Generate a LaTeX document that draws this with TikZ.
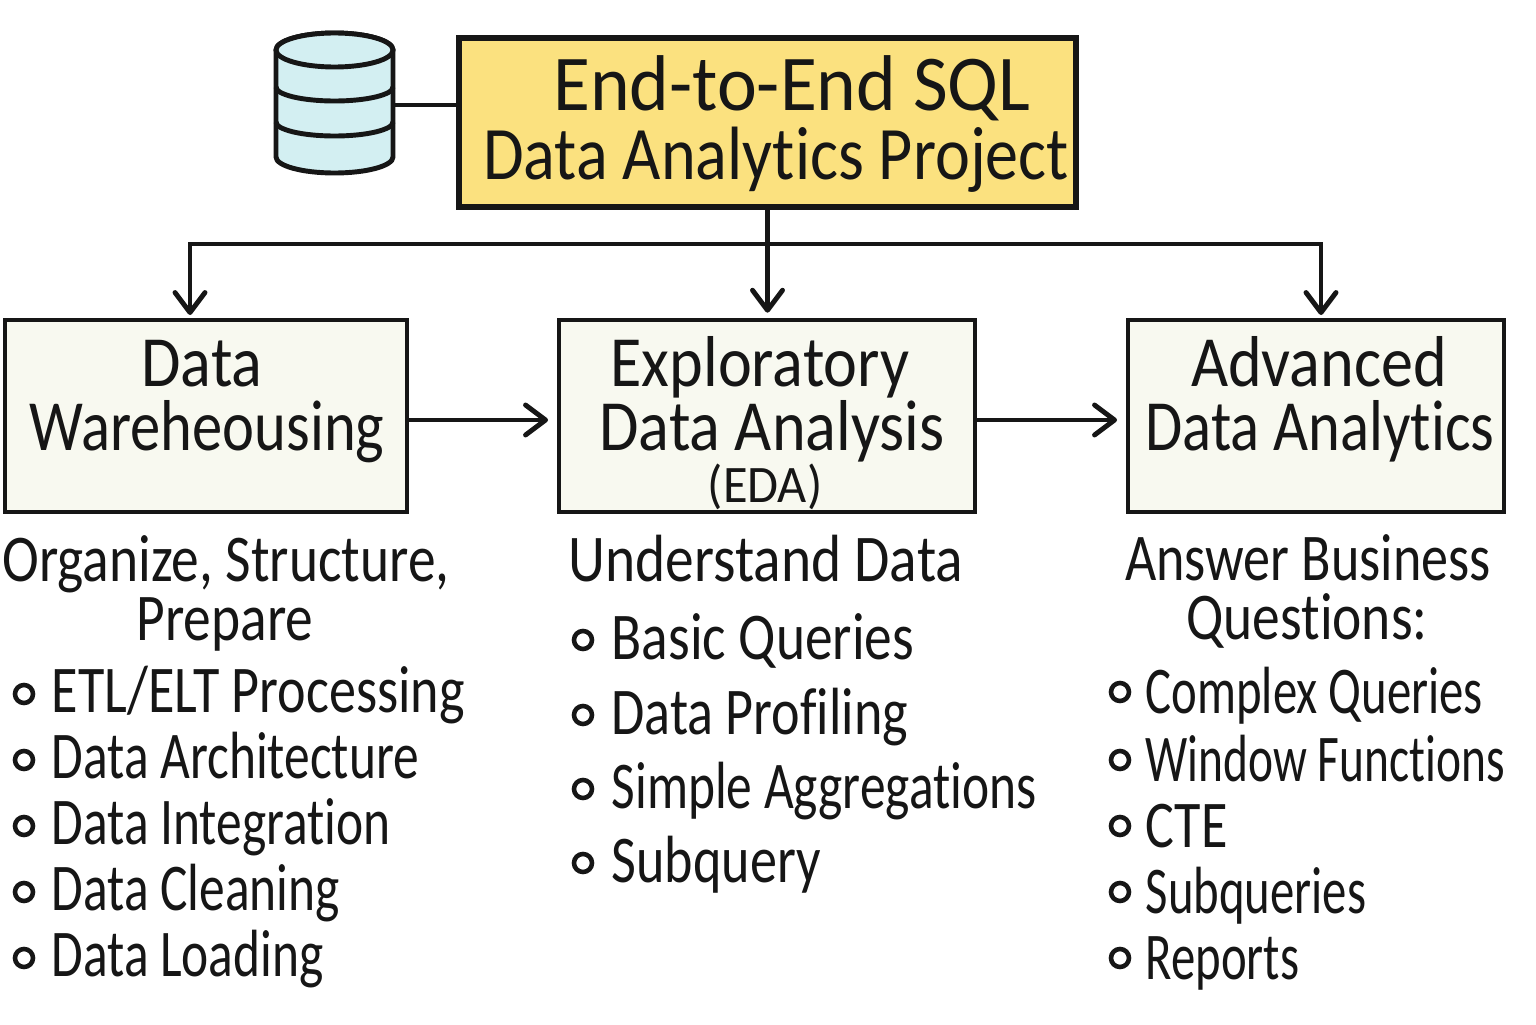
\documentclass[tikz,border=0pt]{standalone}
\usepackage{fontspec}
\setmainfont{Carlito}[FakeStretch=0.8,Ligatures=NoCommon]
\newfontfamily\endfont{Carlito}[FakeStretch=0.955,Ligatures=NoCommon]
\newfontfamily\projectfont{Carlito}[FakeStretch=0.875,Ligatures=NoCommon]
\newfontfamily\stagefont{Carlito}[FakeStretch=0.84,Ligatures=NoCommon]
\newfontfamily\stagewide{Carlito}[FakeStretch=0.89,Ligatures=NoCommon]
\newfontfamily\headfont{Carlito}[FakeStretch=0.83,Ligatures=NoCommon]
\newfontfamily\headwide{Carlito}[FakeStretch=0.86,Ligatures=NoCommon]
\newfontfamily\leftfont{Carlito}[FakeStretch=0.77,Ligatures=NoCommon]
\newfontfamily\midfont{Carlito}[FakeStretch=0.81,Ligatures=NoCommon]
\newfontfamily\rightfont{Carlito}[FakeStretch=0.73,Ligatures=NoCommon]
\newfontfamily\tightfont{Carlito}[FakeStretch=0.71,Ligatures=NoCommon]
\usetikzlibrary{arrows.meta,positioning}
\definecolor{titlefill}{HTML}{FBE17F}
\definecolor{boxfill}{HTML}{F8F9F0}
\definecolor{dbfill}{HTML}{D3EFF2}
\definecolor{inkline}{HTML}{161616}
\tikzset{
  stagebox/.style={draw=inkline,line width=1.3pt,fill=boxfill,inner sep=0pt},
  listtext/.style={anchor=base west,inner sep=0pt,text=inkline},
  headtext/.style={anchor=base,inner sep=0pt,font=\headfont\fontsize{19}{19}\selectfont,text=inkline},
  boxtext/.style={anchor=base,inner sep=0pt,font=\stagewide\fontsize{20.5}{20.5}\selectfont,text=inkline},
  titletext/.style={anchor=base,inner sep=0pt,text=inkline},
  dot/.style={circle,draw=inkline,line width=1.3pt,minimum size=0.18cm,inner sep=0pt},
  link/.style={draw=inkline,line width=1.4pt,-{Straight Barb[length=2mm,width=3mm,line width=1.4pt,round]},shorten >=1.1mm},
  drop/.style={link,shorten >=0.5mm},
  dbline/.style={draw=inkline,line width=1.4pt},
}
\begin{document}
\begin{tikzpicture}
            \useasboundingbox (0,0) rectangle (15.36,10.24);
            \fill[white] (0,0) rectangle (15.36,10.24);

            % title
            \node [draw=inkline,line width=1.5pt,fill=titlefill,minimum width=6.17cm,minimum height=1.69cm,inner sep=0pt] (title) at (7.675,9.015) {};
            \node [titletext,font=\endfont\fontsize{22.5}{22.5}\selectfont] (titleone) at (7.92,9.13) {End-to-End SQL};
            \node [titletext,font=\projectfont\fontsize{21.5}{21.5}\selectfont] (titletwo) at (7.76,8.44) {Data Analytics Project};

            % database
            \draw[dbline,fill=dbfill] (2.76,9.74) -- (2.76,8.67) arc[start angle=180,end angle=360,x radius=0.585,y radius=0.16] -- (3.93,9.74) arc[start angle=0,end angle=180,x radius=0.585,y radius=0.17];
            \draw[dbline,fill=dbfill] (3.345,9.74) ellipse[x radius=0.585,y radius=0.17];
            \draw[dbline] (2.76,9.37) arc[start angle=180,end angle=360,x radius=0.585,y radius=0.14];
            \draw[dbline] (2.76,9.02) arc[start angle=180,end angle=360,x radius=0.585,y radius=0.14];
            \coordinate (dbside) at (3.93,9.19);
            \draw[draw=inkline,line width=1.4pt] (dbside) -- (dbside -| title.west);

            % stages
            \node [stagebox,minimum width=4.02cm,minimum height=1.92cm] (dwh) at (2.06,6.08) {};
            \node [stagebox,minimum width=4.16cm,minimum height=1.92cm] (eda) at (7.67,6.08) {};
            \node [stagebox,minimum width=3.76cm,minimum height=1.92cm] (ada) at (13.16,6.08) {};

            \node [boxtext] (dwhone) at (2.02,6.38) {Data};
            \node [boxtext,font=\stagefont\fontsize{20.5}{20.5}\selectfont] (dwhtwo) at (2.07,5.74) {Wareheousing};
            \node [boxtext] (edaone) at (7.60,6.38) {Exploratory};
            \node [boxtext] (edatwo) at (7.72,5.74) {Data Analysis};
            \node [boxtext,font=\endfont\fontsize{15}{15}\selectfont] (edathree) at (7.65,5.22) {(EDA)};
            \node [boxtext] (adaone) at (13.19,6.38) {Advanced};
            \node [boxtext,font=\stagefont\fontsize{20.5}{20.5}\selectfont] (adatwo) at (13.20,5.74) {Data Analytics};

            % connectors
            \coordinate (split) at (7.675,7.80);
            \coordinate (dwhtop) at (1.90,7.04);
            \coordinate (adatop) at (13.21,7.04);
            \draw[draw=inkline,line width=1.4pt] (title.south) -- (split);
            \draw[drop] (split) -| (dwhtop);
            \draw[drop] (split) -- (split |- eda.north);
            \draw[drop] (split) -| (adatop);
            \coordinate (dwhright) at (4.07,6.04);
            \coordinate (edaleft) at (5.59,6.04);
            \coordinate (edaright) at (9.75,6.04);
            \coordinate (adaleft) at (11.28,6.04);
            \draw[link] (dwhright) -- (edaleft);
            \draw[link] (edaright) -- (adaleft);

            % headings
            \node [headtext] (dwhhead) at (2.26,4.43) {Organize, Structure,};
            \node [headtext] (dwhsub) at (2.25,3.84) {Prepare};
            \node [headtext,anchor=base west,font=\headwide\fontsize{19}{19}\selectfont] (edahead) at (5.68,4.43) {Understand Data};
            \node [headtext,font=\midfont\fontsize{19}{19}\selectfont] (adahead) at (13.08,4.44) {Answer Business};
            \node [headtext] (adasub) at (13.07,3.85) {Questions:};

            % lists
            \foreach \name/\ypos/\itemfont [count=\i] in {{ETL/ELT Processing}/3.12/\midfont,Data Architecture/2.46/\leftfont,Data Integration/1.80/\leftfont,Data Cleaning/1.14/\leftfont,Data Loading/0.48/\leftfont}
              {\node [dot] (dotl\i) at (0.24,\ypos+0.18) {};
               \node [listtext,font=\itemfont\fontsize{19}{19}\selectfont] (iteml\i) at (0.51,\ypos) {\name};}
            \foreach \name/\ypos/\itemfont [count=\i] in {Basic Queries/3.65/\headfont,Data Profiling/2.90/\midfont,Simple Aggregations/2.16/\leftfont,Subquery/1.42/\midfont}
              {\node [dot] (dotm\i) at (5.83,\ypos+0.19) {};
               \node [listtext,font=\itemfont\fontsize{19}{19}\selectfont] (itemm\i) at (6.11,\ypos) {\name};}
            \foreach \name/\ypos/\itemfont [count=\i] in {Complex Queries/3.11/\rightfont,Window Functions/2.43/\tightfont,CTE/1.77/\midfont,Subqueries/1.11/\rightfont,Reports/0.45/\rightfont}
              {\node [dot] (dotr\i) at (11.20,\ypos+0.21) {};
               \node [listtext,font=\itemfont\fontsize{19}{19}\selectfont] (itemr\i) at (11.45,\ypos) {\name};}
\end{tikzpicture}
\end{document}
